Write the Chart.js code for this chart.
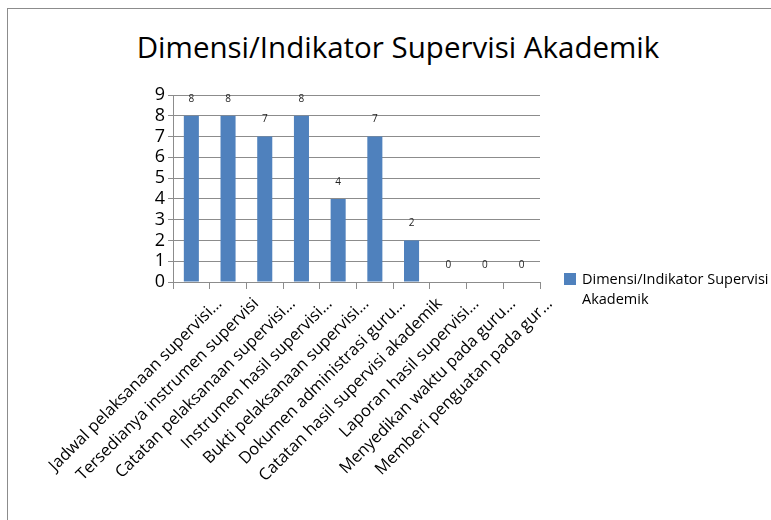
<!DOCTYPE html>
<html>
<head>
<meta charset="utf-8">
<script src="https://cdn.jsdelivr.net/npm/chart.js@4/dist/chart.umd.min.js"></script>
<style>
  html, body { margin: 0; padding: 0; background: #fff; overflow: hidden; }
  body { width: 771px; height: 520px; position: relative; font-family: "Open Sans", sans-serif; }
  #frame { position: absolute; left: 7px; top: 8px; width: 800px; height: 520px;
           border-left: 1px solid #8c8c8c; border-top: 1px solid #8c8c8c; }
  #title { position: absolute; left: 98px; width: 600px; top: 25px; text-align: center;
           font-size: 29.5px; line-height: 44px; color: #000; white-space: nowrap; }
  #wrap { position: absolute; left: 16px; top: 9px; width: 764px; height: 505px; }
  #legend { position: absolute; left: 564px; top: 272px; font-size: 14.5px; line-height: 20px; color: #000; }
  #legend .box { position: absolute; left: 0; top: 1px; width: 12px; height: 12px; background: #4f81bd; }
  #legend .txt { position: absolute; left: 18px; top: -3px; white-space: nowrap; }
</style>
</head>
<body>
<div id="frame"></div>
<div id="title"></div>
<div id="wrap"><canvas id="chart"></canvas></div>
<div id="legend"><div class="box"></div><div class="txt">Dimensi/Indikator Supervisi<br>Akademik</div></div>
<script>
const chartTitle = "Dimensi/Indikator Supervisi Akademik";
const seriesName = "Dimensi/Indikator Supervisi Akademik";
const categories = [
  "Jadwal pelaksanaan supervisi…",
  "Tersedianya instrumen supervisi",
  "Catatan pelaksanaan supervisi…",
  "Instrumen hasil supervisi…",
  "Bukti pelaksanaan supervisi…",
  "Dokumen administrasi guru…",
  "Catatan hasil supervisi akademik",
  "Laporan hasil supervisi…",
  "Menyedikan waktu pada guru…",
  "Memberi penguatan pada gur…"
];
const values = [8, 8, 7, 8, 4, 7, 2, 0, 0, 0];
const yTicks = [0, 1, 2, 3, 4, 5, 6, 7, 8, 9];

document.getElementById('title').textContent = chartTitle;

// value labels drawn above each bar
const valueLabels = {
  id: 'valueLabels',
  afterDatasetsDraw(chart) {
    const ctx = chart.ctx;
    const meta = chart.getDatasetMeta(0);
    ctx.save();
    ctx.font = '10px "Open Sans", sans-serif';
    ctx.fillStyle = '#222';
    ctx.textAlign = 'center';
    ctx.textBaseline = 'middle';
    meta.data.forEach((bar, i) => {
      ctx.fillText(String(values[i]), bar.x, bar.y - 17);
    });
    ctx.restore();
  }
};

new Chart(document.getElementById('chart'), {
  type: 'bar',
  data: {
    labels: categories,
    datasets: [{
      label: seriesName,
      data: values,
      backgroundColor: '#4f81bd',
      borderWidth: 0,
      barPercentage: 0.41,
      categoryPercentage: 1
    }]
  },
  options: {
    responsive: true,
    maintainAspectRatio: false,
    animation: false,
    layout: { padding: { left: 133, right: 240, top: 86, bottom: 0 } },
    plugins: {
      legend: { display: false },
      tooltip: { enabled: false },
      title: { display: false }
    },
    scales: {
      x: {
        afterFit(scale) {
          scale.height = 232;
          scale.paddingLeft = 0;
          scale.paddingRight = 0;
        },
        grid: { drawOnChartArea: false, color: '#8c8c8c', tickLength: 7 },
        border: { color: '#8c8c8c' },
        ticks: {
          color: '#000',
          font: { family: 'Open Sans', size: 16.5 },
          minRotation: 45,
          maxRotation: 45,
          autoSkip: false,
          labelOffset: 28,
          padding: 5
        }
      },
      y: {
        min: 0,
        max: 9,
        afterBuildTicks(scale) { scale.ticks = yTicks.map(v => ({ value: v })); },
        afterFit(scale) {
          scale.width = 24;
          scale.paddingTop = 0;
          scale.paddingBottom = 0;
        },
        grid: { color: '#8c8c8c', tickLength: 5 },
        border: { color: '#8c8c8c' },
        ticks: { color: '#000', font: { family: 'Open Sans', size: 18 }, padding: 3, autoSkip: false }
      }
    }
  },
  plugins: [valueLabels]
});
</script>
</body>
</html>
